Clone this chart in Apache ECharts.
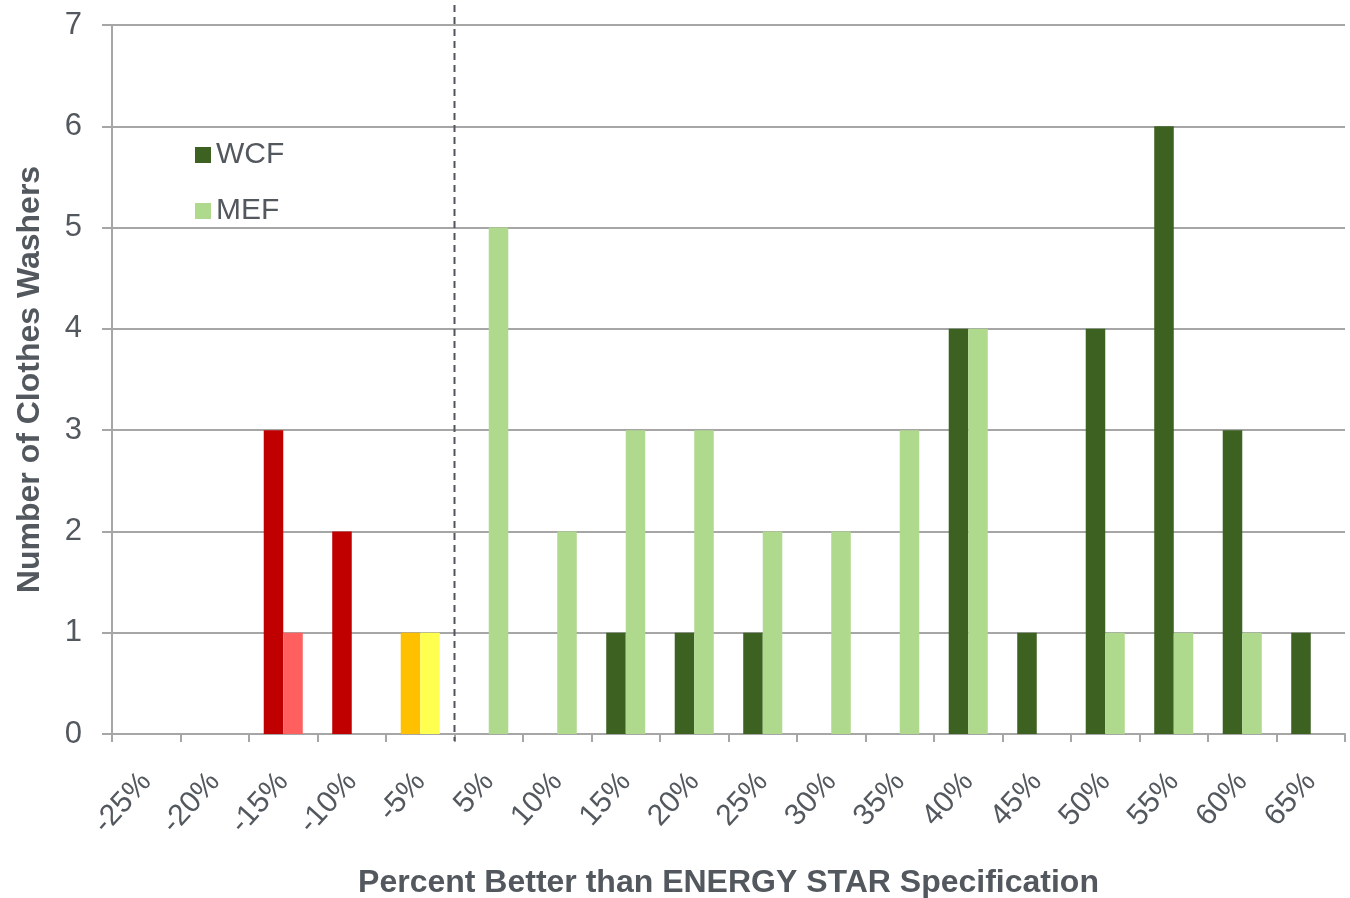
<!DOCTYPE html>
<html>
<head>
<meta charset="utf-8">
<title>Clothes Washers vs ENERGY STAR</title>
<script src="https://cdn.jsdelivr.net/npm/echarts@6/dist/echarts.min.js"></script>
<style>
  html, body { margin: 0; padding: 0; background: #ffffff; }
  #chart { width: 1350px; height: 898px; }
</style>
</head>
<body>
<div id="chart"></div>
<script>
// Percent better than the ENERGY STAR specification (bins)
const categories = ['-25%', '-20%', '-15%', '-10%', '-5%', '5%', '10%', '15%', '20%', '25%', '30%', '35%', '40%', '45%', '50%', '55%', '60%', '65%'];
// Number of clothes washers in each bin
const wcfValues = [0, 0, 3, 2, 1, 0, 0, 1, 1, 1, 0, 0, 4, 1, 4, 6, 3, 1];
const mefValues = [0, 0, 1, 0, 1, 5, 2, 3, 3, 2, 2, 3, 4, 0, 1, 1, 1, 0];
const yTicks = [0, 1, 2, 3, 4, 5, 6, 7];

const TEXT = '#53585e';
const AXIS = '#a6a6a6';
const FONT = '"Liberation Sans", Arial, sans-serif';

// Bins that fail the spec are red, the borderline bin is amber/yellow
function wcfColor(cat) {
  if (cat === '-5%') return '#ffc000';
  if (cat.startsWith('-')) return '#c00000';
  return '#3d6121';
}
function mefColor(cat) {
  if (cat === '-5%') return '#ffff50';
  if (cat.startsWith('-')) return '#ff5f5f';
  return '#afd98c';
}

const chart = echarts.init(document.getElementById('chart'), null, { renderer: 'canvas' });

chart.setOption({
  animation: false,
  backgroundColor: '#ffffff',
  textStyle: { fontFamily: FONT },
  grid: { left: 112, right: 5, top: 25, bottom: 164, containLabel: false, outerBoundsMode: 'none' },
  legend: {
    orient: 'vertical',
    left: 195,
    top: 139,
    padding: 0,
    itemWidth: 16,
    itemHeight: 16,
    itemGap: 24,
    icon: 'rect',
    textStyle: { color: TEXT, fontSize: 30, fontFamily: FONT, lineHeight: 32 },
    data: ['WCF', 'MEF']
  },
  xAxis: {
    type: 'category',
    data: categories,
    name: 'Percent Better than ENERGY STAR Specification',
    nameLocation: 'middle',
    nameGap: 133,
    nameTextStyle: { color: TEXT, fontSize: 32, fontWeight: 'bold', fontFamily: FONT },
    axisLine: { show: true, lineStyle: { color: AXIS, width: 2 } },
    axisTick: { show: true, length: 8, lineStyle: { color: AXIS, width: 2 } },
    axisLabel: { rotate: 48, margin: 43, color: TEXT, fontSize: 30, fontFamily: FONT },
    splitLine: { show: false }
  },
  yAxis: {
    type: 'value',
    min: 0,
    max: 7,
    interval: 1,
    name: 'Number of Clothes Washers',
    nameLocation: 'middle',
    nameGap: 66,
    nameTextStyle: { color: TEXT, fontSize: 32, fontWeight: 'bold', fontFamily: FONT },
    axisLine: { show: true, lineStyle: { color: AXIS, width: 2 } },
    axisTick: { show: true, length: 10, lineStyle: { color: AXIS, width: 2 } },
    axisLabel: {
      margin: 30, color: TEXT, fontSize: 31, fontFamily: FONT,
      formatter: v => (yTicks.includes(v) ? String(v) : '')
    },
    splitLine: { show: true, lineStyle: { color: AXIS, width: 2 } }
  },
  series: [
    {
      name: 'WCF',
      type: 'bar',
      barGap: '0%',
      barCategoryGap: '43%',
      itemStyle: { color: '#3d6121' },
      data: wcfValues.map((v, i) => ({ value: v, itemStyle: { color: wcfColor(categories[i]) } }))
    },
    {
      name: 'MEF',
      type: 'bar',
      barGap: '0%',
      barCategoryGap: '43%',
      itemStyle: { color: '#afd98c' },
      data: mefValues.map((v, i) => ({ value: v, itemStyle: { color: mefColor(categories[i]) } }))
    }
  ]
});

// Dashed divider between the failing (negative) and passing bins
const xNeg = chart.convertToPixel({ xAxisIndex: 0 }, '-5%');
const xPos = chart.convertToPixel({ xAxisIndex: 0 }, '5%');
const xDiv = (xNeg + xPos) / 2;
const yTop = chart.convertToPixel({ yAxisIndex: 0 }, 7) - 20;
const yBottom = chart.convertToPixel({ yAxisIndex: 0 }, 0) + 7;
chart.setOption({
  graphic: [{
    type: 'line',
    z: 100,
    shape: { x1: xDiv, y1: yTop, x2: xDiv, y2: yBottom },
    style: { stroke: '#4f565e', lineWidth: 2, lineDash: [7, 5] }
  }]
});
</script>
</body>
</html>
